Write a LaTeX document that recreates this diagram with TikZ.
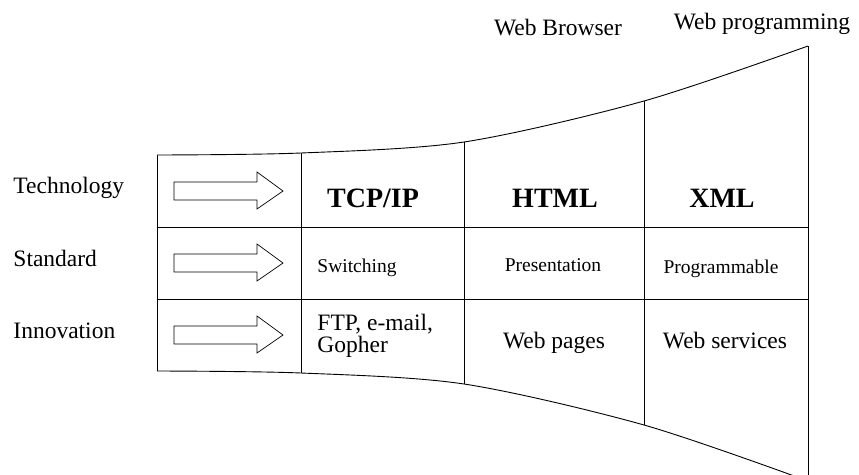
\documentclass[tikz,border=0pt]{standalone}
\usepackage{fontspec}
\setmainfont{Liberation Serif}
\begin{document}
\begin{tikzpicture}[x={(1pt,0)},y={(0,-1pt)},line width=0.9pt,
  lbl/.style={inner sep=0pt,font=\fontsize{23.5}{26}\selectfont},
  big/.style={inner sep=0pt,font=\fontsize{28}{30}\selectfont\bfseries},
  mid/.style={inner sep=0pt,font=\fontsize{19.5}{22}\selectfont},
  arr/.style={line width=0.7pt}]
\useasboundingbox (0,0) rectangle (859,474);
\clip (0,0) rectangle (859,474);
% outline points
\coordinate (t0) at (157,155);
\coordinate (t1) at (301,153);
\coordinate (t2) at (464,142);
\coordinate (t3) at (644,101);
\coordinate (t4) at (808,46);
\coordinate (b0) at (157,371);
\coordinate (b1) at (301,373);
\coordinate (b2) at (464,384);
\coordinate (b3) at (644,425);
\coordinate (b4) at (808,481);
% funnel outline
\draw plot[smooth] coordinates {(157,155) (301,153) (464,142) (644,101) (808,46)};
\draw plot[smooth] coordinates {(157,371) (301,373) (464,384) (644,425) (808,481)};
\draw (t0) -- (b0);
\draw (t1) -- (b1);
\draw (t2) -- (b2);
\draw (t3) -- (b3);
\draw (t4) -- (b4);
% row lines
\coordinate (r1l) at (157,227); \coordinate (r1r) at (808,227);
\coordinate (r2l) at (157,299); \coordinate (r2r) at (808,299);
\draw (r1l) -- (r1r);
\draw (r2l) -- (r2r);
% block arrows
\foreach \r in {191,263,335}{
  \draw[arr,shift={(0,\r)}] (174,-9) -- (257,-9) -- (257,-19) -- (283,0) -- (257,18) -- (257,9) -- (174,9) -- cycle;
}
% left labels
\node[lbl,anchor=base west] (tech) at (13,193) {Technology};
\node[lbl,anchor=base west] (std) at (13,266) {Standard};
\node[lbl,anchor=base west] (inno) at (13,338) {Innovation};
% top labels
\node[lbl,anchor=base] (wb) at (558,35) {Web Browser};
\node[lbl,anchor=base] (wp) at (762,29) {Web programming};
% technology row
\node[big,anchor=base] (tcp) at (373,207) {TCP/IP};
\node[big,anchor=base] (html) at (555,207) {HTML};
\node[big,anchor=base] (xml) at (722,207) {XML};
% standard row
\node[mid,anchor=base] (sw) at (357,272) {Switching};
\node[mid,anchor=base] (pres) at (553,271) {Presentation};
\node[mid,anchor=base] (prog) at (721,273) {Programmable};
% innovation row
\node[inner sep=0pt,anchor=base west,align=left,font=\fontsize{23.5}{22}\selectfont] (ftp) at (317,352) {FTP, e-mail,\\Gopher};
\node[lbl,anchor=base] (wpg) at (554,348) {Web pages};
\node[lbl,anchor=base] (wsv) at (725,348) {Web services};
\end{tikzpicture}
\end{document}
